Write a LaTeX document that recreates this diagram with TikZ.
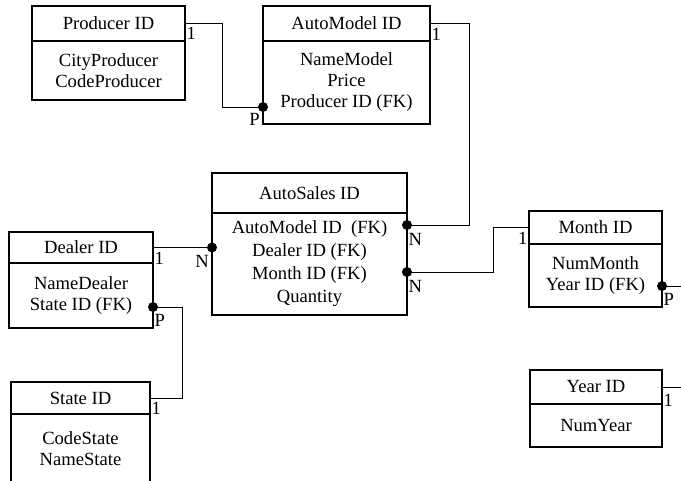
\documentclass[tikz,border=0pt]{standalone}
\usepackage{fontspec}
\setmainfont{Liberation Serif}
\usetikzlibrary{positioning, calc}

\begin{document}
\begin{tikzpicture}[x=1pt, y=-1pt, font=\fontsize{18.6}{21}\selectfont,
    head/.style 2 args={draw, line width=1.4pt, outer sep=0pt, inner sep=0pt, anchor=north west, minimum width=#1, minimum height=#2},
    body/.style 2 args={draw, line width=1.4pt, outer sep=0pt, inner sep=0pt, align=center, minimum width=#1, minimum height=#2},
    rel/.style={line width=0.9pt},
    card/.style={inner sep=1.5pt, yshift=-3pt}]
    \useasboundingbox (0,0) rectangle (681,481);

    % Tables
    \node[head={153pt}{35pt}] (prodHead) at (32,6) {Producer ID};
    \node[body={153pt}{59pt}, below=0pt of prodHead] (prodBody) {CityProducer\\CodeProducer};

    \node[head={167pt}{35pt}] (amHead) at (263,6) {AutoModel ID};
    \node[body={167pt}{83pt}, below=0pt of amHead] (amBody) {NameModel\\Price\\Producer ID (FK)};

    \node[head={195pt}{40pt}] (asHead) at (212,173) {AutoSales ID};
    \node[body={195pt}{102pt}, below=0pt of asHead, font=\fontsize{18.6}{23}\selectfont] (asBody) {AutoModel ID\ \ (FK)\\Dealer ID (FK)\\Month ID (FK)\\Quantity};

    \node[head={144pt}{31pt}] (dlHead) at (9,232) {Dealer ID};
    \node[body={144pt}{65pt}, below=0pt of dlHead] (dlBody) {NameDealer\\State ID (FK)};

    \node[head={133pt}{33pt}] (mnHead) at (529,211) {Month ID};
    \node[body={133pt}{63pt}, below=0pt of mnHead] (mnBody) {NumMonth\\Year ID (FK)};

    \node[head={132pt}{34pt}] (yrHead) at (530,370) {Year ID};
    \node[body={132pt}{43pt}, below=0pt of yrHead] (yrBody) {NumYear};

    \node[head={139pt}{32pt}] (stHead) at (11,382) {State ID};
    \node[body={139pt}{69pt}, below=0pt of stHead] (stBody) {CodeState\\NameState};

    % Foreign key points
    \coordinate (amFK) at ($(amBody.south west)+(0,-17)$);
    \coordinate (asAM) at ($(asBody.north east)+(0,12)$);
    \coordinate (asMon) at ($(asBody.north east)+(0,59)$);
    \coordinate (asDl) at (asBody.west |- dlHead.east);
    \coordinate (dlSt) at ($(dlBody.south east)+(0,-21)$);
    \coordinate (mnYr) at ($(mnBody.south east)+(0,-21)$);
    \coordinate (mnOut) at (681,286);
    \coordinate (yrOut) at (681,387);

    % Relations
    \draw[rel] (prodHead.east) -- ++(37,0) |- (amFK);
    \draw[rel] (amHead.east) -- ++(39,0) |- (asAM);
    \draw[rel] (dlHead.east) -- (asDl);
    \draw[rel] (asMon) -- ++(86,0) |- (mnHead.west);
    \draw[rel] (dlSt) -- ++(29,0) |- (stHead.east);
    \draw[rel] (mnYr) -- (mnOut);
    \draw[rel] (yrHead.east) -- (yrOut);

    \foreach \p in {amFK, asAM, asMon, asDl, dlSt, mnYr}
        \fill (\p) circle (5pt);

    % Cardinalities
    \node[card, below right, yshift=1pt] (c1) at (prodHead.east) {1};
    \node[card, below left, inner sep=3pt] (c2) at (amFK) {P};
    \node[card, below right] (c3) at (amHead.east) {1};
    \node[card, below right, yshift=-4pt] (c4) at (asAM) {N};
    \node[card, below right] (c5) at (dlHead.east) {1};
    \node[card, below left, inner sep=3pt, yshift=-2pt] (c6) at (asDl) {N};
    \node[card, below right, yshift=-4pt] (c7) at (asMon) {N};
    \node[card, below left] (c8) at (mnHead.west) {1};
    \node[card, below right, yshift=-3pt] (c9) at (dlSt) {P};
    \node[card, below right] (c10) at (stHead.east) {1};
    \node[card, below right, yshift=-3pt] (c11) at (mnYr) {P};
    \node[card, below right, yshift=-3pt] (c12) at (yrHead.east) {1};
\end{tikzpicture}
\end{document}
